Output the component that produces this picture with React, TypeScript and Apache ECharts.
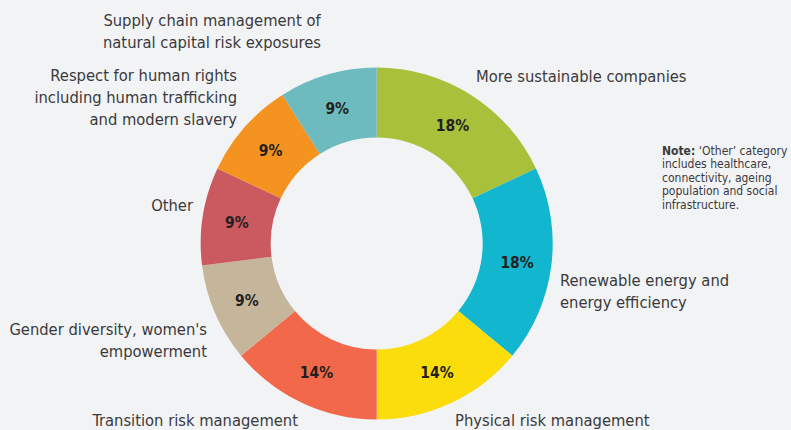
import React, { useEffect, useRef } from "react";
import * as echarts from "echarts";

const categories = [
  "More sustainable companies",
  "Renewable energy and\nenergy efficiency",
  "Physical risk management",
  "Transition risk management",
  "Gender diversity, women's\nempowerment",
  "Other",
  "Respect for human rights\nincluding human trafficking\nand modern slavery",
  "Supply chain management of\nnatural capital risk exposures",
];
const values = [18, 18, 14, 14, 9, 9, 9, 9];
const colors = ["#a9c03b", "#12b6cf", "#fadd0b", "#f2684a", "#c5b69b", "#cb5a60", "#f4931f", "#6dbabf"];

const noteLines = [
  "{b|Note:} ‘Other’ category",
  "includes healthcare,",
  "connectivity, ageing",
  "population and social",
  "infrastructure.",
];

// label anchors: [x, y, align]
const labelPos: [number, number, string][] = [
  [476, 76, "left"],
  [560, 291, "left"],
  [455, 420, "left"],
  [298, 420, "right"],
  [207, 340, "right"],
  [193, 205, "right"],
  [237, 97, "right"],
  [212, 31, "center"],
];

const FONT = "'Liberation Sans Narrow', 'DejaVu Sans Condensed', 'Roboto', sans-serif";
const CENTER = [376.7, 243.5];

export default function App() {
  const ref = useRef<HTMLDivElement>(null);
  useEffect(() => {
    document.body.style.margin = "0";
    const chart = echarts.init(ref.current!, null, { renderer: "svg" });
    const data = categories.map((name, i) => ({ name, value: values[i], itemStyle: { color: colors[i] } }));
    const ghost = data.map((d) => ({ ...d, itemStyle: { color: "rgba(0,0,0,0)" } }));
    chart.setOption({
      animation: false,
      backgroundColor: "#f2f3f5",
      graphic: [
        {
          type: "text",
          left: 662,
          top: 144,
          style: {
            text: noteLines.join("\n"),
            fontFamily: FONT,
            fontSize: 12,
            lineHeight: 13.5,
            fill: "#3a3a3c",
            rich: { b: { fontWeight: "bold", fontFamily: FONT, fontSize: 12, fill: "#3a3a3c" } },
          },
        },
      ],
      series: [
        {
          type: "pie",
          center: CENTER,
          radius: [106, 176],
          startAngle: 90,
          clockwise: true,
          silent: true,
          data,
          label: { show: false },
          labelLine: { show: false },
          itemStyle: { borderWidth: 0 },
        },
        {
          type: "pie",
          center: CENTER,
          radius: [106, 171],
          startAngle: 90,
          clockwise: true,
          silent: true,
          data: ghost,
          label: {
            show: true,
            position: "inside",
            formatter: "{c}%",
            fontFamily: FONT,
            fontWeight: "bold",
            fontSize: 15.5,
            color: "#231f20",
            offset: [0, 1.5],
          },
          labelLine: { show: false },
        },
        {
          type: "pie",
          center: CENTER,
          radius: [106, 176],
          startAngle: 90,
          clockwise: true,
          silent: true,
          data: ghost,
          label: {
            show: true,
            position: "outside",
            formatter: "{b}",
            fontFamily: FONT,
            fontSize: 16.4,
            lineHeight: 22,
            color: "#3a3a3c",
            overflow: "none",
            width: 400,
          },
          labelLine: { show: false },
          labelLayout: (p: any) => {
            const pos = labelPos[p.dataIndex];
            return { x: pos[0], y: pos[1], align: pos[2], verticalAlign: "middle", hideOverlap: false, moveOverlap: false };
          },
        },
      ],
    });
    return () => chart.dispose();
  }, []);
  return <div ref={ref} style={{ width: 791, height: 430 }} />;
}
